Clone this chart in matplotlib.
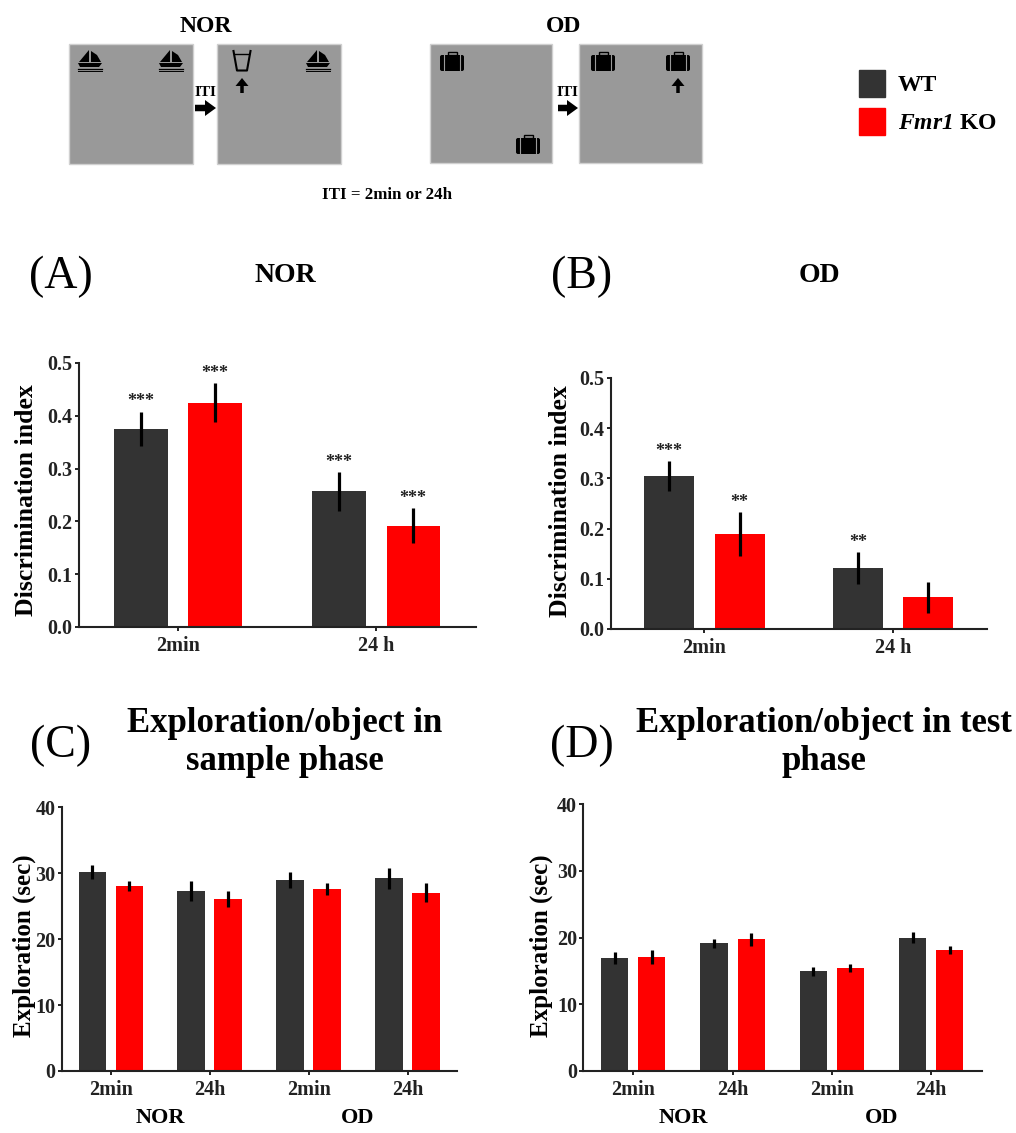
import numpy as np
import matplotlib
matplotlib.use('Agg')
import matplotlib.pyplot as plt
from matplotlib.patches import Rectangle, Polygon, FancyBboxPatch, FancyArrow, Patch

W, H = 1016, 1133
dark = '#333333'
red = '#ff0000'

# panel A / B values
groups_ab = ['2min', '24 h']
a_wt = [0.375, 0.257]
a_ko = [0.425, 0.192]
a_wt_err = [0.033, 0.037]
a_ko_err = [0.037, 0.033]
a_wt_sig = ['***', '***']
a_ko_sig = ['***', '***']

b_wt = [0.305, 0.1215]
b_ko = [0.189, 0.063]
b_wt_err = [0.030, 0.032]
b_ko_err = [0.044, 0.031]
b_wt_sig = ['***', '**']
b_ko_sig = ['**', '']

# panel C / D values
groups_cd = ['2min', '24h', '2min', '24h']
c_wt = [30.2, 27.3, 29.0, 29.2]
c_ko = [28.1, 26.1, 27.6, 27.05]
c_wt_err = [1.06, 1.5, 1.2, 1.64]
c_ko_err = [0.76, 1.24, 0.86, 1.46]

d_wt = [16.9, 19.1, 14.9, 20.0]
d_ko = [17.1, 19.7, 15.4, 18.1]
d_wt_err = [0.93, 0.7, 0.63, 0.88]
d_ko_err = [1.03, 0.93, 0.58, 0.65]

plt.rcParams['font.family'] = 'Liberation Serif'
plt.rcParams['font.weight'] = 'bold'
plt.rcParams['axes.labelweight'] = 'bold'
plt.rcParams['mathtext.fontset'] = 'custom'
plt.rcParams['mathtext.bfit'] = 'Liberation Serif:italic:bold'

fig = plt.figure(figsize=(W/100, H/100), dpi=100)


def px_axes(left, right, top, bottom):
    return fig.add_axes([left/W, 1-bottom/H, (right-left)/W, (bottom-top)/H])


def bars(ax, groups, wt, ko, wt_err, ko_err, width, ymax, yticks, yfmt, xlim, ylab, ylab_x, ylab_y,
         wt_sig=None, ko_sig=None):
    x = np.arange(len(groups))
    off = 0.187
    kw = dict(elinewidth=2.3, ecolor='black', capsize=0)
    ax.bar(x-off, wt, width, color=dark, yerr=wt_err, error_kw=kw)
    ax.bar(x+off, ko, width, color=red, yerr=ko_err, error_kw=kw)
    ax.set_xlim(xlim)
    ax.set_ylim(0, ymax)
    ax.set_xticks(x)
    ax.set_xticklabels(groups, fontsize=14.5)
    ax.set_yticks(yticks)
    ax.set_yticklabels([yfmt % v for v in yticks], fontsize=14.5)
    ax.tick_params(axis='y', length=3, width=1.4, pad=1.5, colors='#222222')
    ax.tick_params(axis='x', length=3, width=1.4, pad=3.5, colors='#222222')
    for s in ['top', 'right']:
        ax.spines[s].set_visible(False)
    for s in ['left', 'bottom']:
        ax.spines[s].set_linewidth(1.5)
        ax.spines[s].set_color('#222222')
    ax.set_ylabel(ylab, fontsize=18.5 if ymax < 1 else 18)
    ax.yaxis.set_label_coords(ylab_x, ylab_y)
    if wt_sig:
        for i in range(len(groups)):
            ax.annotate(wt_sig[i], (x[i]-off, wt[i]+wt_err[i]), xytext=(0, 7), textcoords='offset points',
                        ha='center', va='center', fontsize=13, color='#222222')
            ax.annotate(ko_sig[i], (x[i]+off, ko[i]+ko_err[i]), xytext=(0, 7), textcoords='offset points',
                        ha='center', va='center', fontsize=13, color='#222222')


axA = px_axes(79, 476, 363, 627)
axB = px_axes(611, 987, 378, 629)
axC = px_axes(61.7, 457, 807.3, 1071)
axD = px_axes(583.3, 981.7, 804.3, 1070.7)

bars(axA, groups_ab, a_wt, a_ko, a_wt_err, a_ko_err, 0.268, 0.5, [0, .1, .2, .3, .4, .5], '%.1f',
     (-0.5, 1.505), 'Discrimination index', -0.103, 0.48, a_wt_sig, a_ko_sig)
bars(axB, groups_ab, b_wt, b_ko, b_wt_err, b_ko_err, 0.265, 0.5, [0, .1, .2, .3, .4, .5], '%.1f',
     (-0.495, 1.497), 'Discrimination index', -0.104, 0.51, b_wt_sig, b_ko_sig)
bars(axC, groups_cd, c_wt, c_ko, c_wt_err, c_ko_err, 0.276, 40, [0, 10, 20, 30, 40], '%d',
     (-0.495, 3.50), 'Exploration (sec)', -0.065, 0.475)
bars(axD, groups_cd, d_wt, d_ko, d_wt_err, d_ko_err, 0.275, 40, [0, 10, 20, 30, 40], '%d',
     (-0.503, 3.508), 'Exploration (sec)', -0.075, 0.47)

# NOR / OD under the last two panels
for ax in [axC, axD]:
    for xc, lab in zip([0.5, 2.5], ['NOR', 'OD']):
        ax.annotate(lab, (xc, 0), xytext=(0, -34), xycoords=('data', 'axes fraction'),
                    textcoords='offset points', ha='center', va='center', fontsize=16)

# overlay in pixel coords for the scheme and the headings
ov = fig.add_axes([0, 0, 1, 1], zorder=-1)
ov.set_xlim(0, W)
ov.set_ylim(H, 0)
ov.axis('off')


def boat(cx, top):
    ov.add_patch(Polygon([[cx-1, top], [cx-1, top+12], [cx-11, top+12]], color='black', lw=0))
    ov.add_patch(Polygon([[cx+1, top+1], [cx+7, top+5], [cx+11, top+12], [cx+1, top+12]], color='black', lw=0))
    ov.add_patch(Polygon([[cx-12, top+13], [cx+12, top+13], [cx+9, top+17], [cx-10, top+17]], color='black', lw=0))
    ov.plot([cx-12, cx+12], [top+19, top+19], color='black', lw=0.9)
    ov.plot([cx-12, cx+12], [top+21, top+21], color='black', lw=0.7)


def case(cx, cy):
    ov.add_patch(FancyBboxPatch((cx-12, cy-7), 24, 16, boxstyle='round,pad=0,rounding_size=2', color='black', lw=0))
    ov.add_patch(Rectangle((cx-4.5, cy-10), 9, 3, fill=False, ec='black', lw=1))
    ov.plot([cx-8, cx-8], [cy-7, cy+9], color='#999999', lw=0.8)
    ov.plot([cx+8, cx+8], [cy-7, cy+9], color='#999999', lw=0.8)


def up_arrow(cx, top):
    ov.add_patch(FancyArrow(cx, top+15, 0, -15, width=3.5, head_width=13, head_length=8,
                            length_includes_head=True, color='black', lw=0))


def right_arrow(x0, x1, y):
    ov.add_patch(FancyArrow(x0, y, x1-x0, 0, width=6.5, head_width=16, head_length=11,
                            length_includes_head=True, color='black', lw=0))


for left, right, bot in [(69, 193, 164), (217, 341, 164), (430, 552, 163), (579, 702, 163)]:
    ov.add_patch(Rectangle((left, 44), right-left, bot-44, fc='#999999', ec='#d0d0d0', lw=1))

for cx in [90, 171, 318]:
    boat(cx, 50)
ov.plot([233.5, 237, 247, 250.5], [51, 70.5, 70.5, 51], color='black', lw=1.5)
ov.plot([235, 249], [54, 54], color='black', lw=1)
up_arrow(242, 78)
for cx, cy in [(452, 62), (528, 145), (603, 62), (678, 62)]:
    case(cx, cy)
up_arrow(678, 78)
right_arrow(195, 216, 108)
right_arrow(558, 578, 108)

ov.text(206, 26, 'NOR', ha='center', va='center', fontsize=17)
ov.text(564, 26, 'OD', ha='center', va='center', fontsize=17)
ov.text(205, 93, 'ITI', ha='center', va='center', fontsize=11)
ov.text(567, 93, 'ITI', ha='center', va='center', fontsize=11)
ov.text(387, 195, 'ITI = 2min or 24h', ha='center', va='center', fontsize=12.2)

ov.text(285, 275, 'NOR', ha='center', va='center', fontsize=20)
ov.text(819, 275, 'OD', ha='center', va='center', fontsize=20)
ov.text(285, 743, 'Exploration/object in\nsample phase', ha='center', va='center', fontsize=25, linespacing=1.2)
ov.text(824, 743, 'Exploration/object in test\nphase', ha='center', va='center', fontsize=25, linespacing=1.2)
for x, y, lab in [(61, 277, '(A)'), (582, 277, '(B)'), (61, 746, '(C)'), (582, 746, '(D)')]:
    ov.text(x, y, lab, ha='center', va='center', fontsize=33, fontweight='normal')

leg = fig.legend(handles=[Patch(color=dark), Patch(color=red)], labels=['WT', r'$\mathbfit{Fmr1}$ KO'],
                 loc='upper left', bbox_to_anchor=(859/W, 1-70/H), frameon=False, fontsize=17,
                 borderpad=0, borderaxespad=0, handlelength=1.1, handleheight=1.35, labelspacing=0.5, handletextpad=0.55)

fig.savefig('out.png', dpi=100)
